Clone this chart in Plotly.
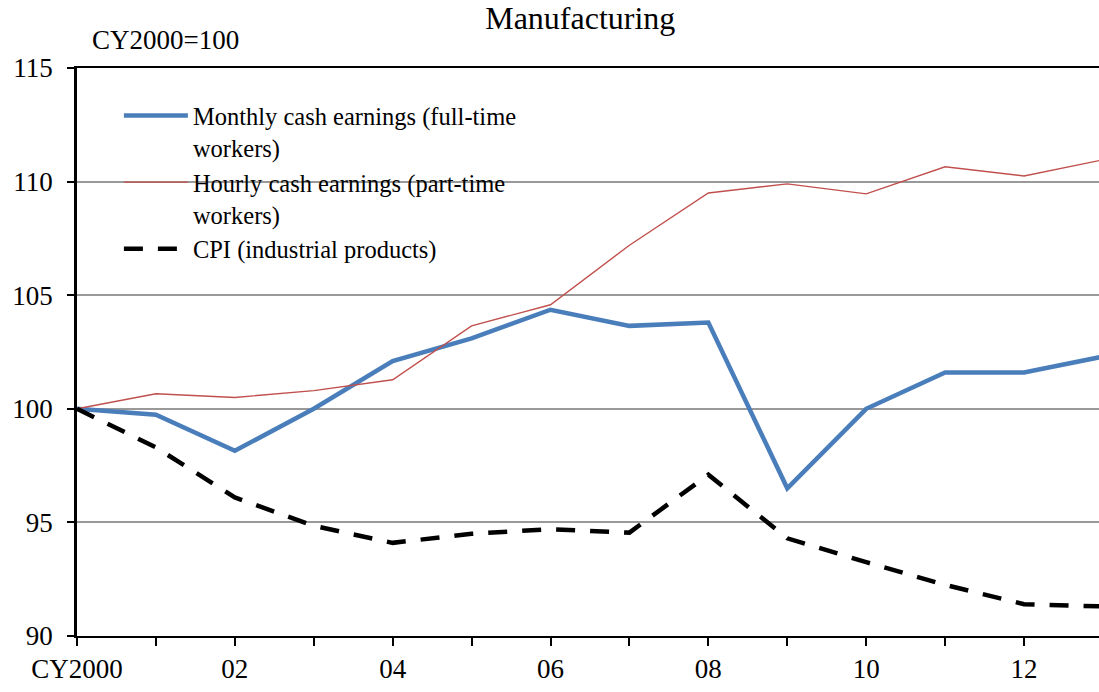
import plotly.graph_objects as go

years = list(range(2000, 2014))
monthly = [100.0, 99.74, 98.15, 100.0, 102.1, 103.1, 104.36, 103.65, 103.8, 96.5, 100.0, 101.6, 101.6, 102.3]
hourly = [100.0, 100.66, 100.5, 100.8, 101.28, 103.65, 104.58, 107.2, 109.5, 109.9, 109.46, 110.65, 110.25, 110.96]
cpi = [100.0, 98.3, 96.1, 94.85, 94.1, 94.5, 94.7, 94.55, 97.1, 94.3, 93.25, 92.25, 91.4, 91.3]

x_tickvals = list(range(2000, 2013))
x_ticktext = ["CY2000", "", "02", "", "04", "", "06", "", "08", "", "10", "", "12"]
y_tickvals = [90, 95, 100, 105, 110, 115]

names = ["Monthly cash earnings (full-time<br>workers)",
         "Hourly cash earnings (part-time<br>workers)",
         "CPI (industrial products)"]

FONT = "Liberation Serif"

fig = go.Figure()
fig.add_trace(go.Scatter(x=years, y=monthly, mode="lines", name=names[0],
                         line=dict(color="#4A7EBB", width=4.5)))
fig.add_trace(go.Scatter(x=years, y=hourly, mode="lines", name=names[1],
                         line=dict(color="#C0504D", width=1.4)))
fig.add_trace(go.Scatter(x=years, y=cpi, mode="lines", name=names[2],
                         line=dict(color="black", width=4.5, dash="19px,15px")))

# white legend background covering gridlines
fig.add_shape(type="rect", xref="paper", yref="paper", x0=0.022, x1=0.463, y0=0.65, y1=0.965,
              fillcolor="white", line=dict(width=0), layer="between")

fig.update_layout(
    width=1099, height=692,
    margin=dict(l=77, r=0, t=68, b=56, autoexpand=False),
    paper_bgcolor="white", plot_bgcolor="white",
    font=dict(family=FONT, color="black"),
    title=dict(text="Manufacturing", x=0.528, xanchor="center", y=0.974, yanchor="middle",
               font=dict(family=FONT, size=32, color="black")),
    showlegend=True,
    legend=dict(x=0.041, y=0.956, xanchor="left", yanchor="top", bgcolor="rgba(0,0,0,0)",
                font=dict(family=FONT, size=24.5, color="black"), itemwidth=64,
                valign="top", tracegroupgap=0, traceorder="normal"),
    annotations=[dict(text="CY2000=100", xref="paper", yref="paper", x=0.0127, y=1.0,
                      xanchor="left", yanchor="bottom", showarrow=False, yshift=11,
                      font=dict(family=FONT, size=27, color="black"))],
)

fig.update_xaxes(range=[2000, 2012.95], tickvals=x_tickvals, ticktext=x_ticktext,
                 ticks="outside", ticklen=8, tickcolor="black", tickwidth=1.5,
                 showline=True, linecolor="black", linewidth=2, mirror=True,
                 showgrid=False, zeroline=False, automargin=False,
                 tickfont=dict(family=FONT, size=27, color="black"))
fig.update_yaxes(range=[90, 115], tickvals=y_tickvals,
                 ticks="outside", ticklen=7, tickcolor="black", tickwidth=1.5,
                 showline=True, linecolor="black", linewidth=2.5,
                 showgrid=True, gridcolor="#999999", gridwidth=1.5, zeroline=False,
                 ticklabelstandoff=9, automargin=False,
                 tickfont=dict(family=FONT, size=27, color="black"))

fig.write_html("out.html", config={"displayModeBar": False},
               post_script="document.body.style.margin='0';document.body.style.overflow='hidden';")
